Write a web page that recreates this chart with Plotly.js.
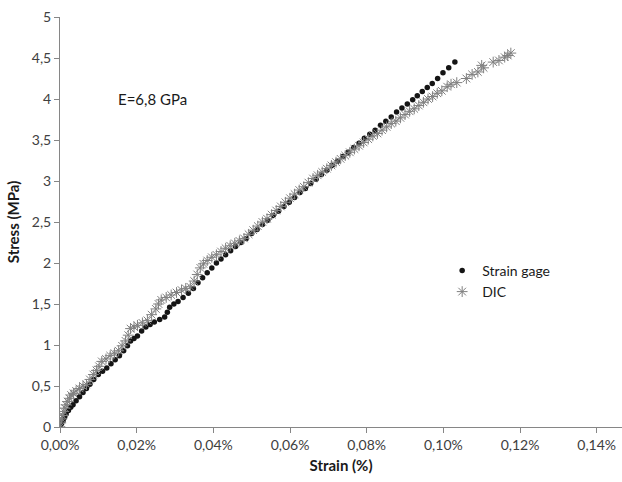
<!DOCTYPE html>
<html>
<head>
<meta charset="utf-8">
<script src="https://cdn.plot.ly/plotly-3.0.1.min.js"></script>
<style>html,body{margin:0;padding:0;background:#fff}#chart{width:622px;height:482px}</style>
</head>
<body>
<div id="chart"></div>
<script>
// Strain gage series (strain in %, stress in MPa)
const gageStrain = [0.0000,0.0004,0.0008,0.0012,0.0016,0.0022,0.0028,0.0034,0.0042,0.0051,0.0060,0.0069,0.0078,0.0088,0.0100,0.0111,0.0122,0.0133,0.0144,0.0155,0.0166,0.0176,0.0184,0.0193,0.0202,0.0213,0.0224,0.0235,0.0246,0.0260,0.0273,0.0280,0.0286,0.0297,0.0308,0.0321,0.0335,0.0348,0.0360,0.0372,0.0384,0.0396,0.0408,0.0420,0.0432,0.0445,0.0458,0.0472,0.0486,0.0500,0.0514,0.0528,0.0542,0.0556,0.0570,0.0584,0.0598,0.0612,0.0626,0.0640,0.0654,0.0668,0.0682,0.0696,0.0710,0.0724,0.0738,0.0752,0.0766,0.0780,0.0794,0.0808,0.0822,0.0836,0.0850,0.0864,0.0878,0.0892,0.0906,0.0920,0.0932,0.0945,0.0958,0.0971,0.0985,0.0999,0.1014,0.1030];
const gageStress = [0.00,0.04,0.08,0.12,0.16,0.20,0.24,0.27,0.32,0.37,0.42,0.47,0.52,0.58,0.64,0.68,0.72,0.77,0.82,0.87,0.93,0.99,1.05,1.08,1.11,1.17,1.22,1.25,1.28,1.31,1.34,1.40,1.46,1.50,1.53,1.58,1.63,1.69,1.76,1.82,1.88,1.94,2.00,2.05,2.10,2.15,2.20,2.25,2.30,2.36,2.41,2.47,2.52,2.58,2.63,2.69,2.74,2.80,2.86,2.91,2.97,3.02,3.08,3.13,3.19,3.24,3.30,3.35,3.41,3.46,3.52,3.57,3.62,3.68,3.73,3.78,3.84,3.89,3.94,3.99,4.04,4.09,4.14,4.19,4.25,4.32,4.38,4.45];

// DIC series (strain in %, stress in MPa)
const dicStrain = [0.0000,0.0002,0.0004,0.0007,0.0010,0.0013,0.0016,0.0020,0.0025,0.0029,0.0035,0.0042,0.0051,0.0060,0.0069,0.0078,0.0087,0.0095,0.0102,0.0109,0.0120,0.0131,0.0142,0.0153,0.0162,0.0171,0.0178,0.0184,0.0193,0.0202,0.0215,0.0228,0.0239,0.0250,0.0257,0.0264,0.0277,0.0290,0.0304,0.0317,0.0328,0.0340,0.0350,0.0358,0.0366,0.0374,0.0384,0.0396,0.0408,0.0420,0.0432,0.0444,0.0456,0.0468,0.0480,0.0492,0.0504,0.0516,0.0528,0.0540,0.0552,0.0564,0.0576,0.0588,0.0600,0.0612,0.0624,0.0636,0.0648,0.0660,0.0672,0.0684,0.0696,0.0708,0.0720,0.0732,0.0744,0.0756,0.0768,0.0780,0.0792,0.0804,0.0816,0.0828,0.0840,0.0852,0.0864,0.0876,0.0888,0.0900,0.0912,0.0924,0.0936,0.0948,0.0960,0.0972,0.0984,0.0996,0.1010,0.1020,0.1035,0.1060,0.1075,0.1090,0.1100,0.1105,0.1130,0.1145,0.1160,0.1168,0.1176];
const dicStress = [0.00,0.05,0.10,0.14,0.19,0.23,0.27,0.31,0.35,0.39,0.41,0.44,0.47,0.50,0.52,0.58,0.64,0.69,0.74,0.80,0.83,0.87,0.90,0.93,0.99,1.05,1.12,1.20,1.22,1.24,1.27,1.30,1.37,1.44,1.50,1.55,1.58,1.61,1.64,1.67,1.69,1.71,1.78,1.86,1.94,1.99,2.03,2.07,2.10,2.14,2.18,2.21,2.24,2.27,2.30,2.35,2.40,2.45,2.50,2.54,2.59,2.64,2.69,2.74,2.79,2.84,2.89,2.93,2.98,3.03,3.07,3.11,3.15,3.19,3.23,3.27,3.31,3.35,3.39,3.43,3.47,3.51,3.55,3.58,3.62,3.66,3.70,3.73,3.77,3.81,3.85,3.88,3.92,3.96,4.00,4.03,4.07,4.10,4.15,4.18,4.20,4.25,4.30,4.33,4.41,4.38,4.45,4.47,4.51,4.53,4.56];

const xTickVals = [0,0.02,0.04,0.06,0.08,0.10,0.12,0.14];
const xTickText = ["0,00%","0,02%","0,04%","0,06%","0,08%","0,10%","0,12%","0,14%"];
const yTickVals = [0,0.5,1,1.5,2,2.5,3,3.5,4,4.5,5];
const yTickText = ["0","0,5","1","1,5","2","2,5","3","3,5","4","4,5","5"];

const FONT = "Lato, 'Open Sans', sans-serif";

const traces = [
  {
    x: gageStrain, y: gageStress, name: "Strain gage", type: "scatter", mode: "markers",
    marker: {symbol: "circle", size: 5.5, color: "#151515"}
  },
  {
    x: dicStrain, y: dicStress, name: "DIC", type: "scatter", mode: "markers",
    marker: {symbol: "asterisk-open", size: 9, color: "#808080", line: {color: "#777777", width: 1}}
  }
];

const axisCommon = {
  showgrid: false, zeroline: false, showline: true, linecolor: "#868686", linewidth: 1,
  ticks: "outside", ticklen: 5, tickcolor: "#868686",
  tickfont: {family: FONT, size: 14, color: "#404040"}
};

const layout = {
  width: 622, height: 482,
  margin: {l: 60, r: 0, t: 17, b: 55},
  paper_bgcolor: "#ffffff", plot_bgcolor: "#ffffff",
  showlegend: true,
  legend: {
    x: 0.68, y: 0.42, xanchor: "left", yanchor: "top",
    font: {family: FONT, size: 14, color: "#1a1a1a"},
    bgcolor: "rgba(0,0,0,0)", itemwidth: 30, tracegroupgap: 6
  },
  xaxis: Object.assign({}, axisCommon, {
    range: [0, 0.1466], tickmode: "array", tickvals: xTickVals, ticktext: xTickText,
    title: {text: "<b>Strain (%)</b>", font: {family: FONT, size: 15, color: "#1a1a1a"}, standoff: 8}
  }),
  yaxis: Object.assign({}, axisCommon, {
    range: [0, 5], tickmode: "array", tickvals: yTickVals, ticktext: yTickText,
    title: {text: "<b>Stress (MPa)</b>", font: {family: FONT, size: 15, color: "#1a1a1a"}, standoff: 8}
  }),
  annotations: [{
    xref: "paper", yref: "paper", x: 0.10, y: 0.80, xanchor: "left", yanchor: "middle",
    text: "E=6,8 GPa", showarrow: false, font: {family: FONT, size: 15, color: "#1a1a1a"}
  }]
};

Plotly.newPlot("chart", traces, layout, {displayModeBar: false, staticPlot: true});
</script>
</body>
</html>
